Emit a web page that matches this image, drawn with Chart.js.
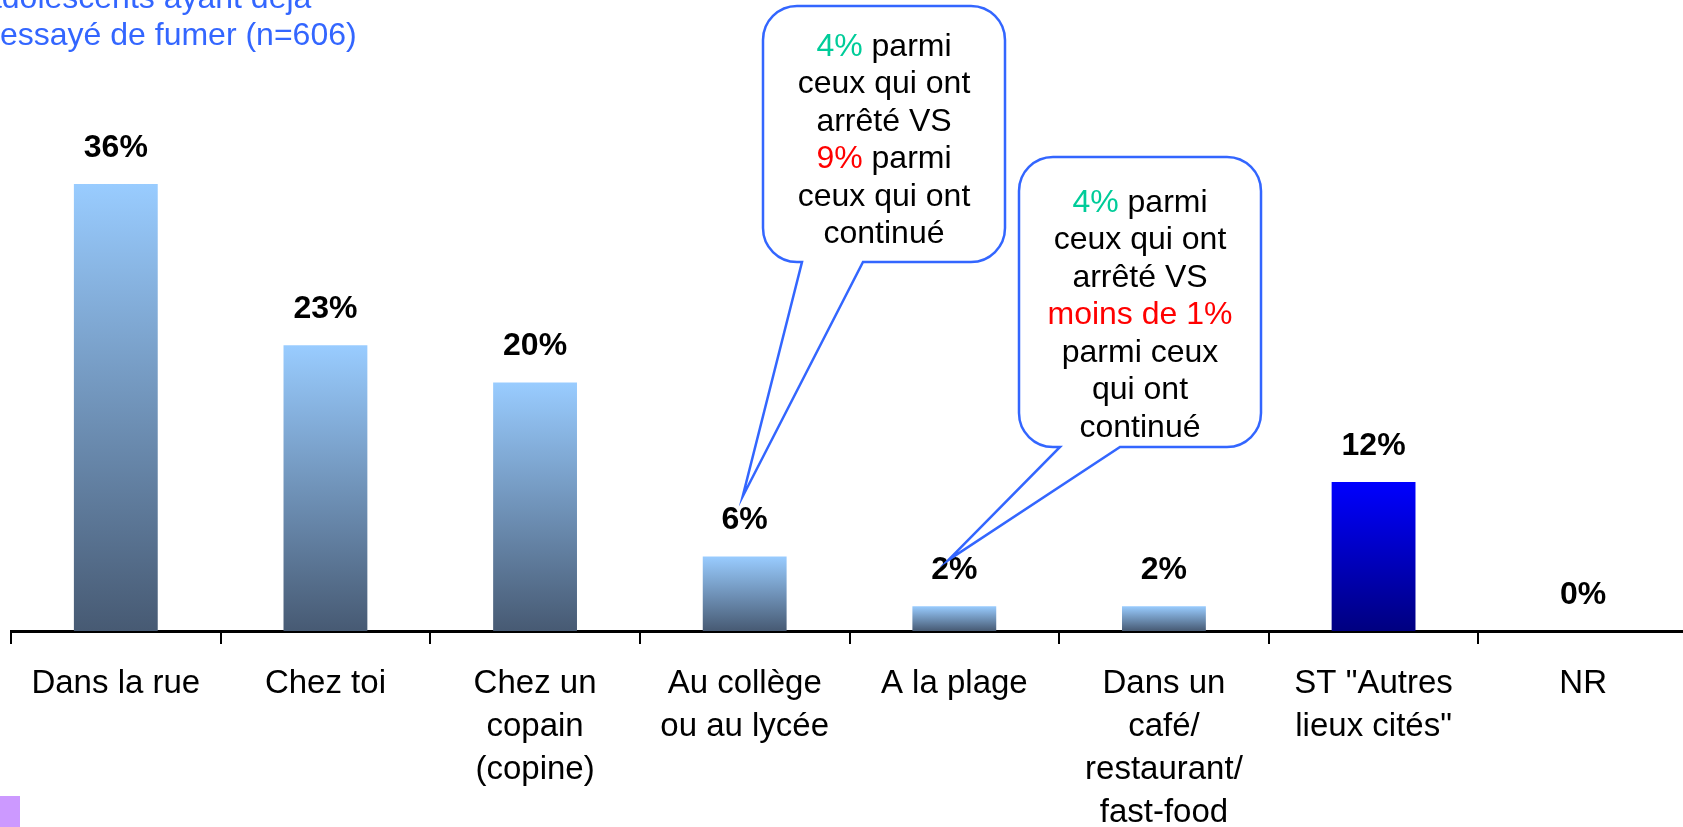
<!DOCTYPE html>
<html lang="fr">
<head>
<meta charset="utf-8">
<title>Lieux de la première cigarette</title>
<script src="https://cdn.jsdelivr.net/npm/chart.js@4.4.1/dist/chart.umd.min.js"></script>
<style>
  html, body { margin: 0; padding: 0; background: #fff; overflow: hidden; }
  canvas { display: block; }
</style>
</head>
<body>
<!-- le graphique original déborde un peu à droite : toile un peu plus large que la fenêtre -->
<canvas id="graficoLieux" width="1688" height="827"></canvas>
<script>
// Données
const categories = [
    ['Dans la rue'],
    ['Chez toi'],
    ['Chez un', 'copain', '(copine)'],
    ['Au collège', 'ou au lycée'],
    ['A la plage'],
    ['Dans un', 'café/', 'restaurant/', 'fast-food'],
    ['ST "Autres', 'lieux cités"'],
    ['NR']
];
const percentages = [36, 23, 20, 6, 2, 2, 12, 0];

const titleLines = ['adolescents ayant déjà', 'essayé de fumer (n=606)'];

// Bulles : segments [texte, couleur]
const calloutCollege = [
    [['4%', '#00CC99'], [' parmi', '#000']],
    [['ceux qui ont', '#000']],
    [['arrêté VS', '#000']],
    [['9%', '#FF0000'], [' parmi', '#000']],
    [['ceux qui ont', '#000']],
    [['continué', '#000']]
];
const calloutPlage = [
    [['4%', '#00CC99'], [' parmi', '#000']],
    [['ceux qui ont', '#000']],
    [['arrêté VS', '#000']],
    [['moins de 1%', '#FF0000']],
    [['parmi ceux', '#000']],
    [['qui ont', '#000']],
    [['continué', '#000']]
];

const FONT = '"Liberation Sans", Arial, sans-serif';
const BLEU = '#3366FF';

// dégradé de chaque barre (haut -> bas)
const gradients = [
    ['#99CCFF', '#475A73'], ['#99CCFF', '#475A73'], ['#99CCFF', '#475A73'], ['#99CCFF', '#475A73'],
    ['#99CCFF', '#475A73'], ['#99CCFF', '#475A73'], ['#0000FF', '#000080'], ['#99CCFF', '#475A73']
];

function couleurBarre(context) {
    const chart = context.chart;
    const colores = gradients[context.dataIndex] || gradients[0];
    if (!chart.chartArea || context.type !== 'data') return colores[0];
    const y = chart.scales.y;
    const haut = y.getPixelForValue(context.raw);
    const bas = y.getPixelForValue(0);
    if (bas - haut < 1) return colores[0];
    const g = chart.ctx.createLinearGradient(0, haut, 0, bas);
    g.addColorStop(0, colores[0]);
    g.addColorStop(1, colores[1]);
    return g;
}

function dessinerBulle(ctx, box, tip, lignes) {
    const { left, top, right, bottom, r } = box;
    ctx.save();
    ctx.beginPath();
    ctx.moveTo(left + r, top);
    ctx.lineTo(right - r, top);
    ctx.arcTo(right, top, right, top + r, r);
    ctx.lineTo(right, bottom - r);
    ctx.arcTo(right, bottom, right - r, bottom, r);
    ctx.lineTo(box.baseRight, bottom);
    ctx.lineTo(tip.x, tip.y);
    ctx.lineTo(box.baseLeft, bottom);
    ctx.lineTo(left + r, bottom);
    ctx.arcTo(left, bottom, left, bottom - r, r);
    ctx.lineTo(left, top + r);
    ctx.arcTo(left, top, left + r, top, r);
    ctx.closePath();
    ctx.fillStyle = '#fff';
    ctx.fill();
    ctx.strokeStyle = BLEU;
    ctx.lineWidth = 2.5;
    ctx.stroke();

    ctx.font = '32px ' + FONT;
    ctx.textBaseline = 'middle';
    ctx.textAlign = 'left';
    const cx = (left + right) / 2;
    lignes.forEach((segments, i) => {
        const total = segments.reduce((s, seg) => s + ctx.measureText(seg[0]).width, 0);
        let x = cx - total / 2;
        const yl = box.textTop + i * box.lineGap;
        segments.forEach(seg => {
            ctx.fillStyle = seg[1];
            ctx.fillText(seg[0], x, yl);
            x += ctx.measureText(seg[0]).width;
        });
    });
    ctx.restore();
}

const etiquettesPlugin = {
    id: 'etiquettes',
    afterDatasetsDraw(chart) {
        const ctx = chart.ctx;
        const meta = chart.getDatasetMeta(0);
        ctx.save();
        ctx.font = 'bold 32px ' + FONT;
        ctx.fillStyle = '#000';
        ctx.textAlign = 'center';
        ctx.textBaseline = 'middle';
        meta.data.forEach((bar, i) => {
            ctx.fillText(percentages[i] + '%', bar.x, bar.y - 36);
        });
        ctx.restore();
    },
    afterDraw(chart) {
        const ctx = chart.ctx;
        const meta = chart.getDatasetMeta(0);

        // texte en haut à gauche (coupé par le cadre)
        ctx.save();
        ctx.font = '32px ' + FONT;
        ctx.fillStyle = BLEU;
        ctx.textAlign = 'left';
        ctx.textBaseline = 'alphabetic';
        ctx.fillText(titleLines[0], -16, 8);
        ctx.fillText(titleLines[1], 0, 45);
        // petit carré violet en bas
        ctx.fillStyle = '#CC99FF';
        ctx.fillRect(0, 796, 20, 31);
        ctx.restore();

        const b3 = meta.data[3], b4 = meta.data[4];
        dessinerBulle(ctx,
            { left: 763, top: 6, right: 1005, bottom: 262, r: 34, baseLeft: 802, baseRight: 863, textTop: 47, lineGap: 37.5 },
            { x: b3.x - 2, y: b3.y - 60 }, calloutCollege);
        dessinerBulle(ctx,
            { left: 1019, top: 157, right: 1261, bottom: 447, r: 34, baseLeft: 1060, baseRight: 1120, textTop: 203, lineGap: 37.5 },
            { x: b4.x - 6, y: b4.y - 46 }, calloutPlage);
    }
};

const ctx = document.getElementById('graficoLieux').getContext('2d');
window.graficoLieux = new Chart(ctx, {
    type: 'bar',
    data: {
        labels: categories,
        datasets: [{
            data: percentages,
            backgroundColor: couleurBarre,
            borderWidth: 0,
            barPercentage: 0.4,
            categoryPercentage: 1
        }]
    },
    options: {
        responsive: false,
        animation: false,
        layout: { padding: { top: 10, left: 11, right: 0, bottom: 0 } },
        plugins: {
            legend: { display: false },
            tooltip: { enabled: false },
            title: { display: false }
        },
        scales: {
            x: {
                offset: true,
                grid: {
                    offset: true,
                    drawOnChartArea: false,
                    drawTicks: true,
                    tickLength: 13,
                    color: '#000',
                    lineWidth: 2
                },
                border: { display: true, color: '#000', width: 3 },
                ticks: {
                    color: '#000',
                    padding: 18,
                    maxRotation: 0,
                    autoSkip: false,
                    font: { family: FONT, size: 33, lineHeight: 1.31 }
                },
                afterFit: scale => { scale.height = 196; }
            },
            y: {
                display: false,
                min: 0,
                max: 50
            }
        }
    },
    plugins: [etiquettesPlugin]
});
</script>
</body>
</html>
